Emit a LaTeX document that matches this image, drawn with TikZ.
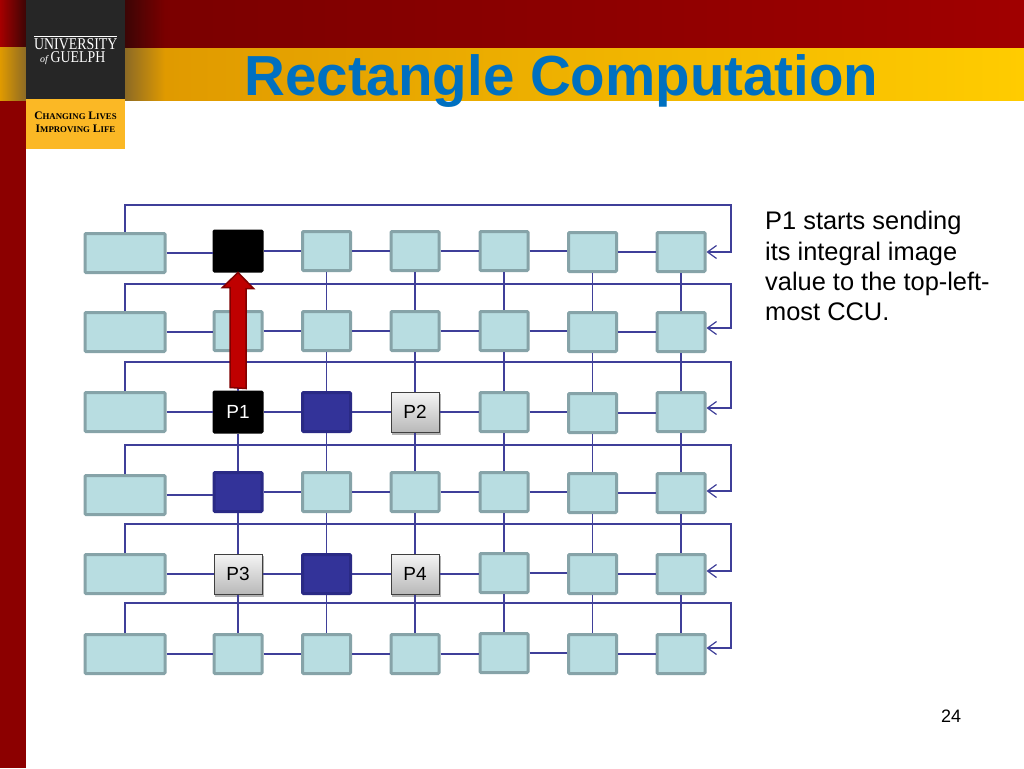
\documentclass[tikz,border=0pt]{standalone}
\usepackage{fontspec}
\setmainfont{Liberation Sans}
\newfontfamily\logofont{Liberation Serif}
\newfontfamily\logonarrow[FakeStretch=0.84]{Liberation Serif}
\usetikzlibrary{arrows.meta,shadows}
\definecolor{ccufill}{HTML}{B8DDE1}
\definecolor{ccuedge}{HTML}{86A3A8}
\definecolor{wirecol}{HTML}{3F3F99}
\definecolor{titleblue}{HTML}{0070C0}
\definecolor{bandgold}{HTML}{E09A00}
\definecolor{bandyellow}{HTML}{FFCC00}
\definecolor{bandshade}{HTML}{8C6A25}
\definecolor{logogold}{HTML}{FBB825}
\definecolor{darkshade}{HTML}{3C0505}
\definecolor{peblue}{HTML}{333399}
\definecolor{peblueedge}{HTML}{2A2A85}
\newcommand{\sct}[2]{{\fontsize{11.5}{12.5}\selectfont #1}{\fontsize{8.8}{12.5}\selectfont #2}}
\begin{document}
\begin{tikzpicture}[x=1pt, y=-1pt,
        ccu/.style={rectangle, draw=ccuedge, fill=ccufill, line width=3pt, rounded corners=1pt, minimum width=48pt, minimum height=39pt, inner sep=0pt},
        ccuwide/.style={ccu, minimum width=80pt},
        blackpe/.style={ccu, draw=black, fill=black, line width=2pt, minimum width=49pt, minimum height=41pt, text=white, font=\fontsize{19}{19}\selectfont},
        bluepe/.style={ccu, draw=peblueedge, fill=peblue},
        graype/.style={rectangle, draw=black!75, top color=gray!8, bottom color=gray!55, line width=1pt, minimum width=48pt, minimum height=40pt, inner sep=0pt, font=\fontsize{19}{19}\selectfont},
        peshadow/.style={rectangle, fill=black, opacity=0.3, minimum width=49pt, minimum height=41pt},
        wire/.style={draw=wirecol, line width=1.2pt},
        feedback/.style={wire, -{Straight Barb[length=9pt, width=13pt]}},
        redarrow/.style={draw=red!50!black, fill=red!75!black, line width=1.5pt}
    ]
    \useasboundingbox (0,0) rectangle (1024,768);

    % Sfondo
    \fill[white] (0,0) rectangle (1024,768);
    \fill[left color=red!48!black, right color=red!63!black] (165,0) rectangle (1024,49);
    \fill[left color=darkshade, right color=red!48!black] (125,0) rectangle (165,49);
    \fill[left color=bandgold, right color=bandyellow] (165,49) rectangle (1024,100);
    \fill[left color=bandshade, right color=bandgold] (125,49) rectangle (165,100);
    \fill[red!55!black] (0,100) rectangle (26,768);
    \fill[left color=red!65!black, right color=darkshade] (0,0) rectangle (26,48);
    \fill[left color=bandgold, right color=bandshade] (0,48) rectangle (26,100);

    % Logo
    \fill[black!85] (26,0) rectangle (125,99);
    \fill[logogold] (26,99) rectangle (125,149);
    \fill[white] (34,36) rectangle (117,36.8);
    \node[anchor=north west, align=left, text=white, inner sep=0pt, font=\logonarrow\fontsize{16.5}{13}\selectfont] (logoa) at (34,38) {UNIVERSITY\\\hspace*{6pt}{\logofont\itshape\fontsize{10}{10}\selectfont of}\,GUELPH};
    \node[align=center, text=black, inner sep=0pt, font=\logofont\bfseries\fontsize{11.5}{12.5}\selectfont] (logoc) at (75.5,122.5) {\sct{C}{HANGING} \sct{L}{IVES}\\\sct{I}{MPROVING} \sct{L}{IFE}};

    % Titolo e testo
    \node[text=titleblue, font=\bfseries\fontsize{56.5}{56.5}\selectfont, inner sep=0pt] (title) at (561.5,81) {Rectangle Computation};
    \node[anchor=north west, align=left, inner sep=0pt, font=\fontsize{25.4}{30.4}\selectfont] (note) at (765,211) {P1 starts sending\\its integral image\\value to the top-left-\\most CCU.};
    \node[font=\fontsize{18}{18}\selectfont, inner sep=0pt] (pagenum) at (951,716) {24};

    % Colonna sinistra
    \foreach \r/\y in {0/253, 1/332, 2/412, 3/495, 4/574, 5/654}
        \node[ccuwide] (w\r) at (125,\y) {};

    % Nodi normali
    \foreach \n/\x/\y in {n02/326.5/251, n03/415/251, n04/504/251, n05/592.5/252, n06/681/252,
            n11/238/331, n12/326.5/331, n13/415/331, n14/504/331, n15/592.5/332, n16/681/332,
            n24/504/412, n25/592.5/413, n26/681/412,
            n32/326.5/492, n33/415/492, n34/504/492, n35/592.5/493, n36/681/493,
            n44/504/573, n45/592.5/574, n46/681/574,
            n51/238/654, n52/326.5/654, n53/415/654, n54/504/653, n55/592.5/654, n56/681/654}
        \node[ccu] (\n) at (\x,\y) {};

    % Nodi speciali
    \node[blackpe] (n01) at (238,251) {};
    \node[blackpe] (n21) at (238,412) {P1};
    \node[bluepe] (n22) at (326.5,412) {};
    \node[bluepe] (n31) at (238,492) {};
    \node[bluepe] (n42) at (326.5,574) {};
    \foreach \n/\x/\y/\t in {n23/415/412/P2, n41/238/574/P3, n43/415/574/P4} {
        \node[peshadow] (s\n) at (\x+1,\y+2) {};
        \node[graype] (\n) at (\x,\y) {\t};
    }

    % Collegamenti orizzontali
    \foreach \r in {0,...,5} {
        \draw[wire] (w\r.east) -- (w\r.east -| n\r1.west);
        \foreach \c [evaluate=\c as \d using int(\c+1)] in {1,...,5}
            \draw[wire] (n\r\c.east) -- (n\r\c.east -| n\r\d.west);
    }

    % Collegamenti verticali
    \foreach \r [evaluate=\r as \s using int(\r+1)] in {0,...,4}
        \foreach \c in {1,...,6}
            \draw[wire] (n\r\c) -- (n\s\c);

    % Ritorni
    \foreach \r/\t/\a in {0/205/252, 1/284/328, 2/362/408, 3/445/491, 4/524/571, 5/603/648} {
        \coordinate (top\r) at (731,\t);
        \coordinate (in\r) at (731,\a);
        \draw[feedback] (w\r.north) |- (top\r) -- (in\r) -- (n\r6.east |- in\r);
    }

    % Freccia
    \draw[redarrow] (n21.north) ++(-8,-3) -- ++(0,-100) -- ++(-7.5,0) -- (n01.south) -- ++(15.5,16) -- ++(-7.5,0) -- ++(0,100) -- cycle;
\end{tikzpicture}
\end{document}
